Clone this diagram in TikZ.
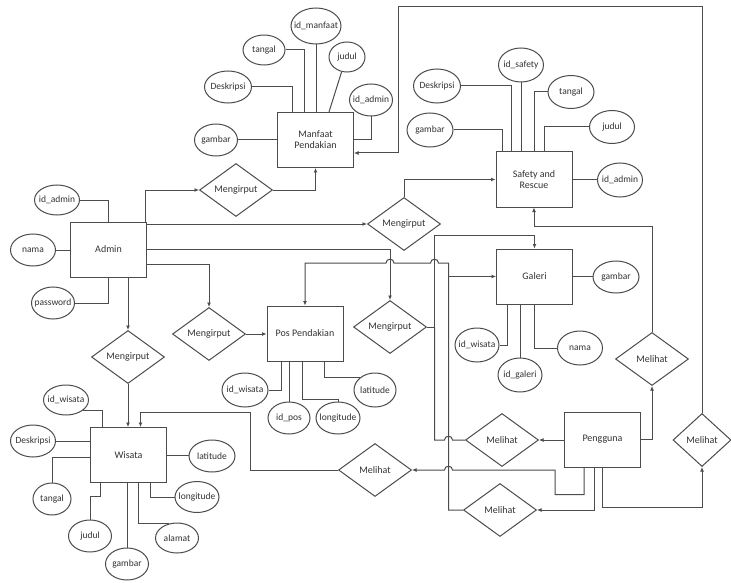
\documentclass[tikz,border=0pt]{standalone}
\usepackage{fontspec}
\setmainfont{Carlito}
\usetikzlibrary{shapes.geometric,arrows.meta,calc}
\begin{document}
\begin{tikzpicture}[x=1pt,y=-1pt,
  ent/.style={draw=black!70, line width=1pt, rectangle, minimum width=76pt, minimum height=55pt, inner sep=1pt, align=center, text=black!80, font=\fontsize{10}{11}\selectfont},
  rel/.style={draw=black!70, line width=1pt, diamond, minimum width=73pt, minimum height=53pt, inner sep=0pt, shape aspect=1.4, text=black!80, font=\fontsize{10}{11}\selectfont},
  attr/.style={draw=black!70, line width=1pt, ellipse, minimum width=45pt, minimum height=32pt, inner sep=0pt},
  every label/.style={font=\fontsize{9.5}{10}\selectfont, inner sep=0pt, text=black!80},
  conn/.style={draw=black!70, line width=1pt},
  arr/.style={conn, -{Latex[length=4.5pt,width=4pt]}},
]
\fill[white] (0,0) rectangle (731,583);
\useasboundingbox (0,0) rectangle (731,583);

% entities
\node[ent] (admin) at (108.5,249.5) {Admin};
\node[ent] (manfaat) at (315.5,140) {Manfaat\\Pendakian};
\node[ent] (safety) at (534,179.5) {Safety and\\Rescue};
\node[ent] (galeri) at (534.5,276.5) {Galeri};
\node[ent] (pos) at (305,333.5) {Pos Pendakian};
\node[ent] (wisata) at (128.5,455) {Wisata};
\node[ent] (pengguna) at (602.5,439.5) {Pengguna};

% relationships
\node[rel] (m1) at (236,190) {Mengirput};
\node[rel] (m2) at (404,224) {Mengirput};
\node[rel] (m3) at (390,327) {Mengirput};
\node[rel] (m4) at (209,334) {Mengirput};
\node[rel] (m5) at (128,357) {Mengirput};
\node[rel] (ml) at (375,470) {Melihat};
\node[rel] (mm) at (502,440) {Melihat};
\node[rel] (mb) at (500,510) {Melihat};
\node[rel] (ms) at (652,359) {Melihat};
\node[rel, minimum width=58pt] (mr) at (702,440) {Melihat};

% attributes: Manfaat
\node[attr, minimum width=50pt, minimum height=36pt, label=center:id\_manfaat] (mid) at (316,26) {};
\node[attr, minimum width=42pt, minimum height=30pt, label=center:tangal] (mtg) at (264,50) {};
\node[attr, minimum width=47pt, minimum height=32pt, label=center:Deskripsi] (mdk) at (228,87) {};
\node[attr, minimum width=36pt, minimum height=30pt, label=center:judul] (mjd) at (347,57) {};
\node[attr, minimum width=43pt, minimum height=32pt, label=center:id\_admin] (mad) at (371,100) {};
\node[attr, minimum width=43pt, minimum height=32pt, label=center:gambar] (mgb) at (216,140) {};

% attributes: Safety
\node[attr, minimum width=45pt, minimum height=34pt, label=center:id\_safety] (sid) at (521,65) {};
\node[attr, minimum width=47pt, minimum height=34pt, label=center:Deskripsi] (sdk) at (437,86) {};
\node[attr, minimum width=46pt, minimum height=34pt, label=center:gambar] (sgb) at (430,130) {};
\node[attr, minimum width=46pt, minimum height=33pt, label=center:tangal] (stg) at (571,92) {};
\node[attr, minimum width=45pt, minimum height=33pt, label=center:judul] (sjd) at (612,127) {};
\node[attr, minimum width=45pt, minimum height=34pt, label=center:id\_admin] (sad) at (620,180) {};

% attributes: Galeri
\node[attr, minimum width=46pt, minimum height=32pt, label=center:gambar] (ggb) at (616,277) {};
\node[attr, minimum width=44pt, minimum height=34pt, label=center:id\_wisata] (gwi) at (477,345) {};
\node[attr, minimum width=44pt, minimum height=34pt, label=center:id\_galeri] (gid) at (520,375) {};
\node[attr, minimum width=45pt, minimum height=34pt, label=center:nama] (gnm) at (580,348) {};

% attributes: Pos Pendakian
\node[attr, minimum width=46pt, minimum height=34pt, label=center:id\_wisata] (pwi) at (245,390) {};
\node[attr, minimum width=42pt, minimum height=32pt, label=center:id\_pos] (pid) at (289,418) {};
\node[attr, minimum width=44pt, minimum height=32pt, label=center:longitude] (plo) at (338,418) {};
\node[attr, minimum width=42pt, minimum height=34pt, label=center:latitude] (pla) at (375,390) {};

% attributes: Admin
\node[attr, minimum width=45pt, minimum height=30pt, label=center:id\_admin] (aid) at (57,200) {};
\node[attr, minimum width=45pt, minimum height=32pt, label=center:nama] (anm) at (33,250) {};
\node[attr, minimum width=43pt, minimum height=32pt, label=center:password] (apw) at (53,303) {};

% attributes: Wisata
\node[attr, minimum width=45pt, minimum height=30pt, label=center:id\_wisata] (wid) at (66,400) {};
\node[attr, minimum width=45pt, minimum height=32pt, label=center:Deskripsi] (wdk) at (33,441) {};
\node[attr, minimum width=38pt, minimum height=32pt, label=center:tangal] (wtg) at (52,499) {};
\node[attr, minimum width=43pt, minimum height=32pt, label=center:judul] (wjd) at (90,536) {};
\node[attr, minimum width=43pt, minimum height=32pt, label=center:gambar] (wgb) at (127,564) {};
\node[attr, minimum width=43pt, minimum height=30pt, label=center:alamat] (wal) at (177,538) {};
\node[attr, minimum width=44pt, minimum height=31pt, label=center:longitude] (wlo) at (197,497) {};
\node[attr, minimum width=46pt, minimum height=32pt, label=center:latitude] (wla) at (212,456) {};

% attribute lines: Admin
\draw[conn] (aid.east) -| ($(admin.north west)+(38,0)$);
\draw[conn] (anm.east) -- (anm.east -| admin.west);
\draw[conn] (apw.east) -| ($(admin.south west)+(38,0)$);

% attribute lines: Manfaat
\draw[conn] (mgb.east) -- (mgb.east -| manfaat.west);
\draw[conn] (mdk.east) -| ($(manfaat.north west)+(15,0)$);
\draw[conn] (mtg.east) -| ($(manfaat.north west)+(27,0)$);
\draw[conn] (mid.south) -- (mid.south |- manfaat.north);
\draw[conn] (mjd.250) -- ($(manfaat.north west)+(52,0)$);
\draw[conn] (mad.south) |- (manfaat.east);

% attribute lines: Safety
\draw[conn] (sid.south) -- (sid.south |- safety.north);
\draw[conn] (sdk.east) -| ($(safety.north west)+(16,0)$);
\draw[conn] (sgb.east) -| ($(safety.north west)+(7,0)$);
\draw[conn] (stg.west) -| ($(safety.north west)+(39,0)$);
\draw[conn] (sjd.west) -| ($(safety.north west)+(49,0)$);
\draw[conn] (safety.east) -- (safety.east -| sad.west);

% attribute lines: Galeri
\draw[conn] (galeri.east) -- (galeri.east -| ggb.west);
\draw[conn] (gwi.east) -| ($(galeri.south west)+(11,0)$);
\draw[conn] (gid.north) -- (gid.north |- galeri.south);
\draw[conn] (gnm.west) -| ($(galeri.south west)+(38,0)$);

% attribute lines: Pos
\draw[conn] (pwi.east) -| ($(pos.south west)+(15,0)$);
\draw[conn] (pid.north) -- (pid.north |- pos.south);
\draw[conn] ($(pos.south west)+(36,0)$) |- ($(plo.north)+(0,-2)$) -- (plo.north);
\draw[conn] ($(pos.south west)+(58,0)$) |- (pla.140);

% attribute lines: Wisata
\draw[conn] (wid.330) -| ($(wisata.north west)+(12,0)$);
\draw[conn] (wdk.east) -- (wdk.east -| wisata.west);
\draw[conn] ($(wisata.west)+(0,2)$) -| (wtg.north);
\draw[conn] (wjd.north) -- ++(0,-23) -| ($(wisata.south west)+(10,0)$);
\draw[conn] (wgb.north) -- (wgb.north |- wisata.south);
\draw[conn] ($(wisata.south west)+(48,0)$) |- (wal.120);
\draw[conn] ($(wisata.south west)+(60,0)$) |- (wlo.west);
\draw[conn] (wisata.east) -- (wisata.east -| wla.west);

% relationship connectors: Admin side
\draw[arr] ([xshift=-2pt]admin.north east) |- (m1.west);
\draw[arr] (m1.east) -| (manfaat.south);
\draw[arr] (m2.west -| admin.east) -- (m2.west);
\draw[arr] (m2.north) |- (safety.west);
\draw[arr] (admin.east) -| (m3.north);
\coordinate (g1) at (434.5,235);
\draw[arr] (m3.east) -| (g1) -| (galeri.north);
\draw[arr] ($(admin.east)+(0,15)$) -| (m4.north);
\draw[arr] (m4.east) -- (m4.east -| pos.west);
\draw[arr] (m5.north |- admin.south) -- (m5.north);
\draw[arr] (m5.south) -- (m5.south |- wisata.north);

% relationship connectors: Pengguna side
\coordinate (w1) at (250,412);
\draw[arr] (ml.west) -| (w1) -| ([xshift=12pt]wisata.north);
\draw[arr] (pengguna.west |- mm.east) -- (mm.east);
\draw[arr] (pengguna.east) -| (ms.south);
\draw[arr] (ms.north) |- ($(safety.south)+(0,19)$) -- (safety.south);
\draw[arr] ($(pengguna.south west)+(20,0)$) -- ++(0,27) -| (555,470) -- (452.5,470) .. controls (452.5,465) and (444.5,465) .. (444.5,470) -- (ml.east);
\draw[arr] ($(pengguna.south west)+(30,0)$) |- (mb.east);
\draw[arr] ($(pengguna.south west)+(38,0)$) -- ++(0,40) -| (mr.south);
\coordinate (t1) at (398,7);
\draw[arr] (mr.north) |- (t1) -- (398,153) -- ($(manfaat.east)+(0,13)$);
\draw[conn] (mm.west) -- (452.5,440) .. controls (452.5,435) and (444.5,435) .. (444.5,440) -- (434.5,440) -- (434.5,327);
\draw[arr] (mb.west) -- (448.5,510) -- (448.5,263) -- (438.5,263) .. controls (438.5,258) and (430.5,258) .. (430.5,263) -- (394,263) .. controls (394,258) and (386,258) .. (386,263) -| (pos.north);
\coordinate (g2) at (448.5,276.5);
\draw[arr] (g2) -- (galeri.west);
\end{tikzpicture}
\end{document}
